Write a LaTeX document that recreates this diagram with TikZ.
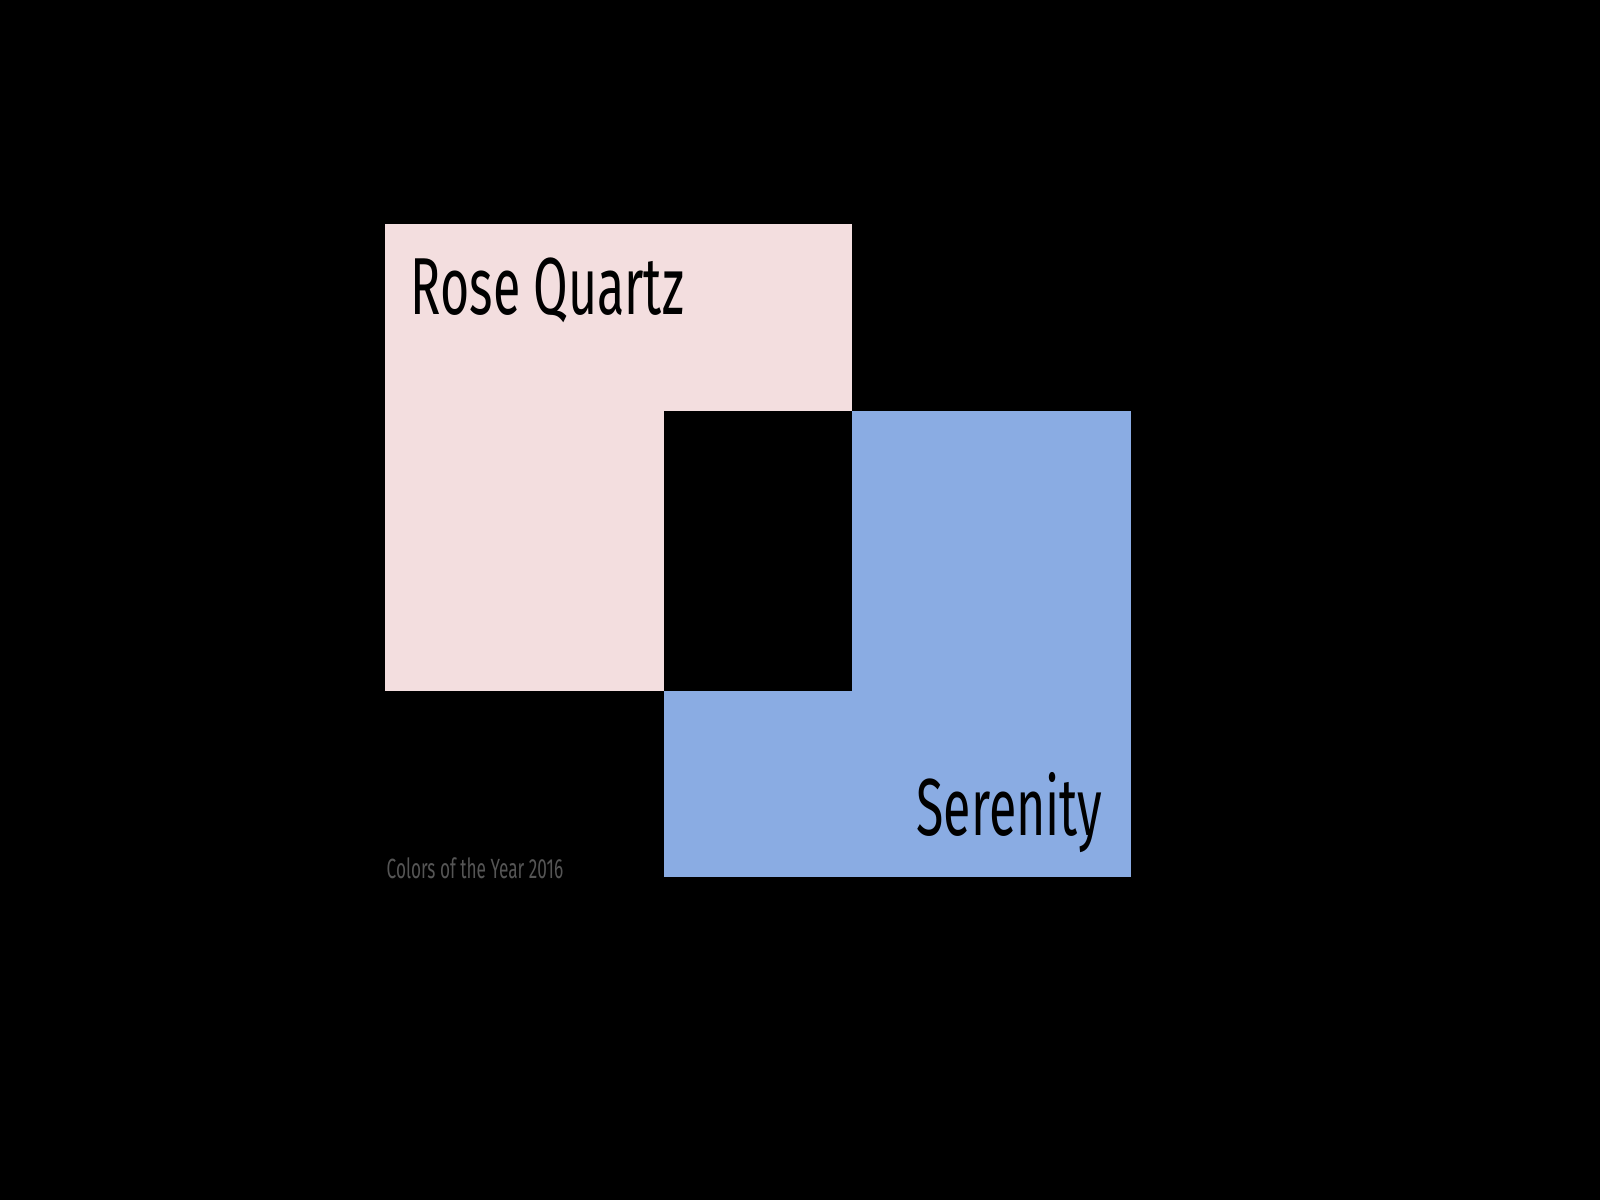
\documentclass[tikz,border=0pt]{standalone}
\usepackage{fontspec}
\setmainfont[FakeStretch=0.62]{Fira Sans}
\definecolor{rosequartz}{HTML}{F3DEDF}
\definecolor{serenity}{HTML}{8AACE3}
\definecolor{caption}{HTML}{555555}
\tikzset{
  colorname/.style={anchor=base, inner sep=0pt, font=\fontsize{23}{27}\selectfont},
}
\begin{document}
\begin{tikzpicture}
                \fill[black] (0, 0) rectangle (16, -12);
                \useasboundingbox (0, 0) rectangle (16, -12);

                \fill[rosequartz] (3.85, -2.24) rectangle (8.52, -6.91);
                \fill[serenity] (6.64, -4.11) rectangle (11.31, -8.77);
                \fill[black] (6.64, -4.11) rectangle (8.52, -6.91);

                \node[colorname,anchor=base west] (rose) at (4.10, -3.14) {Rose Quartz};
                \node[colorname,anchor=base east] (seren) at (11.03, -8.35) {Serenity};
                \node[anchor=base west,inner sep=0pt,text=caption,font=\fontsize{7.9}{9}\selectfont] (year) at (3.86, -8.78) {Colors of the Year 2016};
            \end{tikzpicture}
\end{document}
